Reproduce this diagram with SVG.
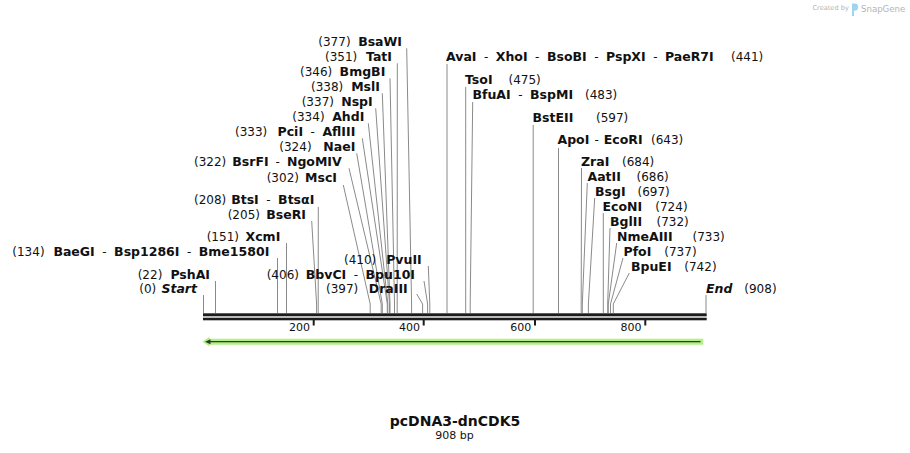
<svg xmlns="http://www.w3.org/2000/svg" width="910" height="453" viewBox="0 0 910 453">
<style>
text{font-family:"DejaVu Sans","Liberation Sans",sans-serif;fill:#111}
.r{font-size:12px;font-weight:normal}
.b{font-size:12.5px;font-weight:bold}
.bi{font-size:12.5px;font-weight:bold;font-style:italic}
.d{font-weight:normal;font-size:12px}
.t{font-size:11px}
.wm{fill:#b4b4b4}
</style>
<rect width="910" height="453" fill="#fff"/>
<g id="watermark">
<text class="wm" x="812.5" y="10" font-size="6.6">Created by</text>
<path d="M852,3.5 h2.6 a3.6,3.6 0 0 1 0,7.2 h-0.6 v5.3 h-2 z" fill="#9fd4ef"/>
<text class="wm" x="861" y="11.5" font-size="8.6">SnapGene</text>
</g>
<g id="connectors" fill="none" stroke="#8a8a8a" stroke-width="1">
<polyline points="203.5,295 203.5,313"/>
<polyline points="215.5,281 215.5,313"/>
<polyline points="277.5,258 277.5,313"/>
<polyline points="286.5,243 286.5,313"/>
<polyline points="311.7,221 316.6,304 316.6,313"/>
<polyline points="318.3,207 318.2,304 318.2,313"/>
<polyline points="343.3,185 370.2,304 370.2,313"/>
<polyline points="349,168.3 381.2,304 381.2,313"/>
<polyline points="356.7,153.3 382.3,304 382.3,313"/>
<polyline points="362.3,138.3 387.3,304 387.3,313"/>
<polyline points="368.3,123.3 387.8,304 387.8,313"/>
<polyline points="375.7,108.3 389.5,304 389.5,313"/>
<polyline points="382.3,93.3 390,304 390,313"/>
<polyline points="390,78.3 394.5,304 394.5,313"/>
<polyline points="397.3,63.3 397.2,313"/>
<polyline points="406.7,48.3 411.6,304 411.6,313"/>
<polyline points="416.7,294 422.6,304 422.6,313"/>
<polyline points="424,281 427.6,304 427.6,313"/>
<polyline points="428.3,266 429.8,304 429.8,313"/>
<polyline points="447,64 447,313"/>
<polyline points="465.7,87 465.7,313"/>
<polyline points="472.7,102 470.2,304 470.2,313"/>
<polyline points="533.2,125 533.2,313"/>
<polyline points="558.5,148 558.5,313"/>
<polyline points="581.5,168 581.2,304 581.2,313"/>
<polyline points="587.3,183 582.3,304 582.3,313"/>
<polyline points="594.7,198 588.4,304 588.4,313"/>
<polyline points="603.3,213 603.3,313"/>
<polyline points="610,228 607.7,304 607.7,313"/>
<polyline points="616.7,243 608.3,304 608.3,313"/>
<polyline points="623,258 610.5,304 610.5,313"/>
<polyline points="629.3,273 613.3,304 613.3,313"/>
<polyline points="706,295 706,313"/>
</g>
<g id="ruler" fill="#1c1c1c">
<rect x="203" y="313.3" width="503.7" height="3"/>
<rect x="203" y="317.7" width="503.7" height="2.6"/>
<rect x="312.7" y="320" width="2" height="5.5"/>
<rect x="422.7" y="320" width="2" height="5.5"/>
<rect x="534" y="320" width="2" height="5.5"/>
<rect x="644.3" y="320" width="2" height="5.5"/>
<text class="t" x="310" y="330.7" text-anchor="end">200</text>
<text class="t" x="420" y="330.7" text-anchor="end">400</text>
<text class="t" x="531.3" y="330.7" text-anchor="end">600</text>
<text class="t" x="641.5" y="330.7" text-anchor="end">800</text>
</g>
<g id="feature">
<polygon points="202.5,341.7 209.5,336.8 209.5,338.7 703.3,338.7 703.3,344.7 209.5,344.7 209.5,346.6" fill="#b2ef86"/>
<line x1="209" y1="341.7" x2="700.5" y2="341.7" stroke="#2f3d27" stroke-width="1.2"/>
<polygon points="205,341.7 210.5,339.2 210.5,344.2" fill="#2f3d27"/>
</g>
<g id="site-Start"><text class="r" x="139.3" y="293">(0)</text><text class="bi" x="197" y="293" text-anchor="end">Start</text></g>
<g id="site-PshAI"><text class="r" x="137.7" y="279">(22)</text><text class="b" x="210" y="279" text-anchor="end">PshAI</text></g>
<g id="site-BaeGI"><text class="r" x="12.3" y="256">(134)</text><text class="b" x="269.3" y="256" text-anchor="end">BaeGI<tspan class="d" dx="7.5">-</tspan><tspan dx="7.5">Bsp1286I</tspan><tspan class="d" dx="7.5">-</tspan><tspan dx="7.5">Bme1580I</tspan></text></g>
<g id="site-XcmI"><text class="r" x="206.7" y="241">(151)</text><text class="b" x="280.3" y="241" text-anchor="end">XcmI</text></g>
<g id="site-BseRI"><text class="r" x="227.7" y="219">(205)</text><text class="b" x="306" y="219" text-anchor="end">BseRI</text></g>
<g id="site-BtsI"><text class="r" x="194" y="204">(208)</text><text class="b" x="314.3" y="204" text-anchor="end">BtsI<tspan class="d" dx="7.5">-</tspan><tspan dx="7.5">BtsαI</tspan></text></g>
<g id="site-MscI"><text class="r" x="266.7" y="181.5">(302)</text><text class="b" x="337" y="181.5" text-anchor="end">MscI</text></g>
<g id="site-BsrFI"><text class="r" x="194" y="166">(322)</text><text class="b" x="341.7" y="166" text-anchor="end">BsrFI<tspan class="d" dx="7">-</tspan><tspan dx="7">NgoMIV</tspan></text></g>
<g id="site-NaeI"><text class="r" x="279.3" y="151">(324)</text><text class="b" x="355.3" y="151" text-anchor="end">NaeI</text></g>
<g id="site-PciI"><text class="r" x="235" y="136">(333)</text><text class="b" x="355.3" y="136" text-anchor="end">PciI<tspan class="d" dx="7.5">-</tspan><tspan dx="7.5">AflIII</tspan></text></g>
<g id="site-AhdI"><text class="r" x="292.3" y="121">(334)</text><text class="b" x="364.3" y="121" text-anchor="end">AhdI</text></g>
<g id="site-NspI"><text class="r" x="301.7" y="106">(337)</text><text class="b" x="372.7" y="106" text-anchor="end">NspI</text></g>
<g id="site-MslI"><text class="r" x="311" y="91">(338)</text><text class="b" x="380" y="91" text-anchor="end">MslI</text></g>
<g id="site-BmgBI"><text class="r" x="300" y="76">(346)</text><text class="b" x="385.3" y="76" text-anchor="end">BmgBI</text></g>
<g id="site-TatI"><text class="r" x="325" y="61">(351)</text><text class="b" x="392" y="61" text-anchor="end">TatI</text></g>
<g id="site-BsaWI"><text class="r" x="318.3" y="46">(377)</text><text class="b" x="402" y="46" text-anchor="end">BsaWI</text></g>
<g id="site-DraIII"><text class="r" x="326" y="293">(397)</text><text class="b" x="407.7" y="293" text-anchor="end">DraIII</text></g>
<g id="site-BbvCI"><text class="r" x="266.7" y="279">(406)</text><text class="b" x="415" y="279" text-anchor="end">BbvCI<tspan class="d" dx="7.5">-</tspan><tspan dx="7.5">Bpu10I</tspan></text></g>
<g id="site-PvuII"><text class="r" x="344" y="264">(410)</text><text class="b" x="421.7" y="264" text-anchor="end">PvuII</text></g>
<g id="site-AvaI"><text class="b" x="446" y="61">AvaI<tspan class="d" dx="7.5">-</tspan><tspan dx="7.5">XhoI</tspan><tspan class="d" dx="7.5">-</tspan><tspan dx="7.5">BsoBI</tspan><tspan class="d" dx="7.5">-</tspan><tspan dx="7.5">PspXI</tspan><tspan class="d" dx="7.5">-</tspan><tspan dx="7.5">PaeR7I</tspan></text><text class="r" x="731" y="61">(441)</text></g>
<g id="site-TsoI"><text class="b" x="465" y="83.5">TsoI</text><text class="r" x="508.5" y="83.5">(475)</text></g>
<g id="site-BfuAI"><text class="b" x="472.5" y="98.5">BfuAI<tspan class="d" dx="7.5">-</tspan><tspan dx="7.5">BspMI</tspan></text><text class="r" x="585" y="98.5">(483)</text></g>
<g id="site-BstEII"><text class="b" x="532.5" y="121.5">BstEII</text><text class="r" x="596" y="121.5">(597)</text></g>
<g id="site-ApoI"><text class="b" x="557.5" y="144">ApoI<tspan class="d" dx="5">-</tspan><tspan dx="5">EcoRI</tspan></text><text class="r" x="651" y="144">(643)</text></g>
<g id="site-ZraI"><text class="b" x="581" y="166">ZraI</text><text class="r" x="622" y="166">(684)</text></g>
<g id="site-AatII"><text class="b" x="587.5" y="181">AatII</text><text class="r" x="636.5" y="181">(686)</text></g>
<g id="site-BsgI"><text class="b" x="595" y="196">BsgI</text><text class="r" x="637.5" y="196">(697)</text></g>
<g id="site-EcoNI"><text class="b" x="602.5" y="211">EcoNI</text><text class="r" x="655.3" y="211">(724)</text></g>
<g id="site-BglII"><text class="b" x="610" y="226">BglII</text><text class="r" x="656.5" y="226">(732)</text></g>
<g id="site-NmeAIII"><text class="b" x="617" y="241">NmeAIII</text><text class="r" x="692.5" y="241">(733)</text></g>
<g id="site-PfoI"><text class="b" x="623.5" y="256">PfoI</text><text class="r" x="664.3" y="256">(737)</text></g>
<g id="site-BpuEI"><text class="b" x="631" y="271">BpuEI</text><text class="r" x="684.3" y="271">(742)</text></g>
<g id="site-End"><text class="bi" x="706" y="293">End</text><text class="r" x="744.3" y="293">(908)</text></g>
<g id="title">
<text x="455" y="426" text-anchor="middle" font-size="14" font-weight="bold">pcDNA3-dnCDK5</text>
<text x="454.5" y="438.5" text-anchor="middle" font-size="11">908 bp</text>
</g>
</svg>
